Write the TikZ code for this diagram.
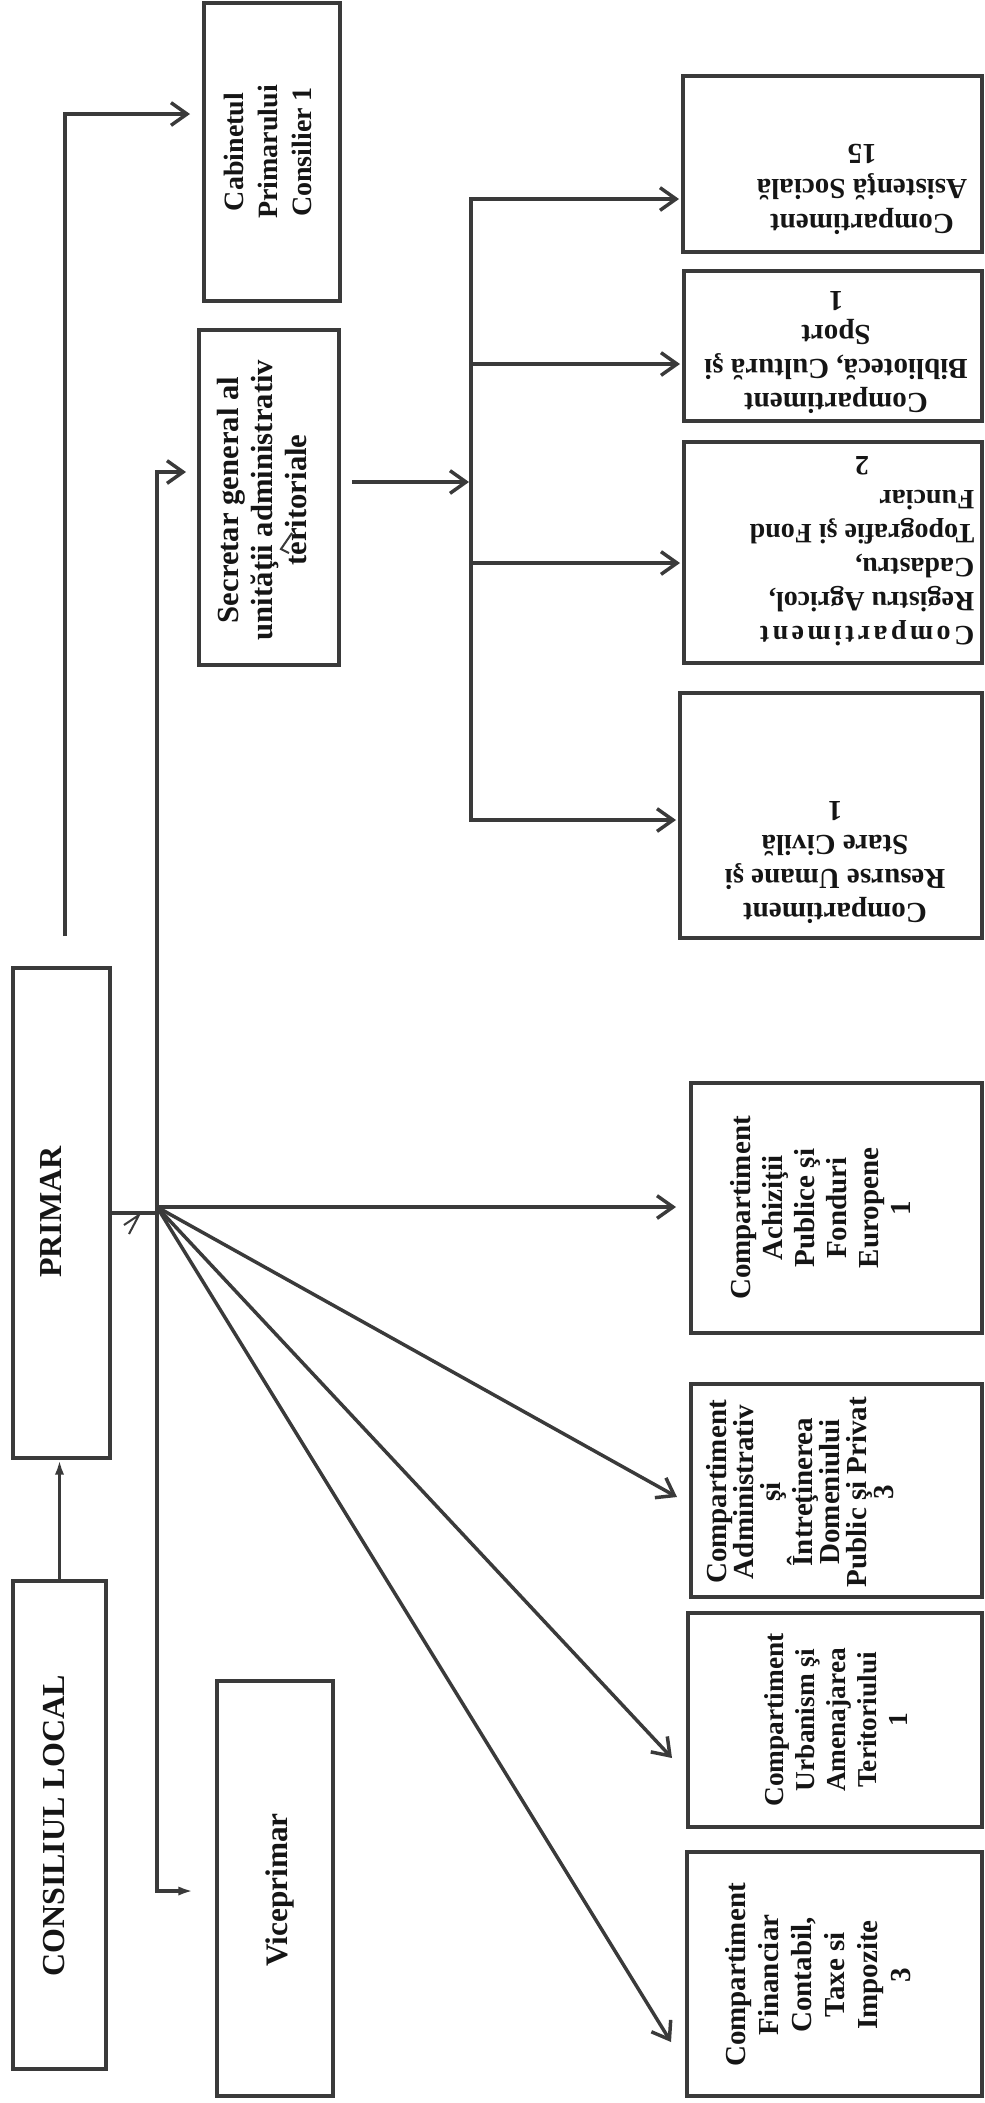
\documentclass[tikz,border=0pt]{standalone}
\usepackage{fontspec}
\setmainfont{Liberation Serif}
\usetikzlibrary{arrows.meta,calc}
\definecolor{linec}{HTML}{3A3A3A}
\definecolor{txtc}{HTML}{151515}
\newlength\pxu
\setlength\pxu{0.75pt}
\begin{document}
\begin{tikzpicture}[x=0.75pt,y=-0.75pt,
  box/.style={draw=linec, line width=3pt, rectangle, inner sep=0pt},
  lab/.style={text=txtc, align=center, inner sep=0pt},
  conn/.style={draw=linec, line width=2.6pt, line join=miter},
  arr/.style={conn, -{Straight Barb[length=12pt,width=17pt]}},
  farr/.style={conn, -{Latex[length=11pt,width=7pt]}},
  stray/.style={draw=linec, line width=1.5pt}
]
\fill[white] (0,0) rectangle (985,2103);
\useasboundingbox (0,0) rectangle (985,2103);

% boxes
\node[box, minimum width=136\pxu, minimum height=298\pxu] (cab) at (272,152) {};
\node[box, minimum width=140\pxu, minimum height=335\pxu] (sec) at (269,497.5) {};
\node[box, minimum width=299\pxu, minimum height=176\pxu] (asist) at (832.5,164) {};
\node[box, minimum width=298\pxu, minimum height=150\pxu] (biblio) at (833,346) {};
\node[box, minimum width=298\pxu, minimum height=221\pxu] (regis) at (833,552.5) {};
\node[box, minimum width=302\pxu, minimum height=245\pxu] (resurse) at (831,815.5) {};
\node[box, minimum width=291\pxu, minimum height=250\pxu] (achiz) at (836.5,1208) {};
\node[box, minimum width=291\pxu, minimum height=213\pxu] (adm) at (836.5,1490.5) {};
\node[box, minimum width=294\pxu, minimum height=214\pxu] (urban) at (835,1720) {};
\node[box, minimum width=295\pxu, minimum height=244\pxu] (financ) at (834.5,1974) {};
\node[box, minimum width=97\pxu, minimum height=490\pxu] (primar) at (61.5,1213) {};
\node[box, minimum width=93\pxu, minimum height=488\pxu] (cons) at (59.5,1825) {};
\node[box, minimum width=116\pxu, minimum height=415\pxu] (vice) at (275,1888.5) {};

% texts
\node[lab, rotate=90, font=\bfseries\fontsize{24}{27}\selectfont] (consT) at (54,1826) {CONSILIUL LOCAL};
\node[lab, rotate=90, font=\bfseries\fontsize{24}{27}\selectfont] (primarT) at (51,1212) {PRIMAR};
\node[lab, rotate=90, font=\bfseries\fontsize{23.5}{27}\selectfont] (viceT) at (280,1890) {Viceprimar};
\node[lab, rotate=90, font=\bfseries\fontsize{21}{25.5}\selectfont] (cabT) at (268,152) {Cabinetul\\Primarului\\Consilier 1};
\node[lab, rotate=90, font=\bfseries\fontsize{23}{25.5}\selectfont] (secT) at (262,500) {Secretar general al\\unităţii administrativ\\teritoriale};
\node[lab, rotate=180, font=\bfseries\fontsize{21.75}{26.25}\selectfont] (asistT) at (862,189) {Compartiment\\Asistenţă Socială\\15};
\node[lab, rotate=180, font=\bfseries\fontsize{21.75}{25.5}\selectfont] (biblioT) at (836,353) {Compartiment\\Bibliotecă, Cultură şi\\Sport\\1};
\node[lab, rotate=180, font=\bfseries\fontsize{21}{25.5}\selectfont] (regisT) at (862,548) {\begin{tabular}{@{}l@{}}{\addfontfeature{LetterSpace=12}Compartiment}\\Registru Agricol,\\Cadastru,\\Topografie şi Fond\\Funciar\\\multicolumn{1}{@{}c@{}}{2}\end{tabular}};
\node[lab, rotate=180, font=\bfseries\fontsize{21.75}{25.5}\selectfont] (resurseT) at (835,863) {Compartiment\\Resurse Umane şi\\Stare Civilă\\1};
\node[lab, rotate=90, font=\bfseries\fontsize{21.75}{24}\selectfont] (achizT) at (820,1208) {Compartiment\\Achiziţii\\Publice şi\\Fonduri\\Europene\\1};
\node[lab, rotate=90, font=\bfseries\fontsize{21.75}{20.25}\selectfont] (admT) at (800,1492) {Compartiment\\Administrativ\\şi\\Întreţinerea\\Domeniului\\Public şi Privat\\3};
\node[lab, rotate=90, font=\bfseries\fontsize{20.5}{23.25}\selectfont] (urbanT) at (836,1720) {Compartiment\\Urbanism şi\\Amenajarea\\Teritoriului\\1};
\node[lab, rotate=90, font=\bfseries\fontsize{21.75}{24.75}\selectfont] (financT) at (818,1975) {Compartiment\\Financiar\\Contabil,\\Taxe si\\Impozite\\3};

% coordinates
\coordinate (lstart) at (65,936);
\coordinate (lcorner) at (65,114);
\coordinate (vtop) at (157,472);
\coordinate (hub) at (157,1207);
\coordinate (vbot) at (157,1891);
\coordinate (bustop) at (471,199);
\coordinate (busb) at (471,364);
\coordinate (busmid) at (471,482);
\coordinate (busr) at (471,563);
\coordinate (busbot) at (471,820);
\coordinate (tipAdm) at (677,1497);
\coordinate (tipUrb) at (672,1758);
\coordinate (tipFin) at (671,2042);

% connectors
\draw[arr, shorten >=12\pxu] (lstart) -- (lcorner) -- (cab.west |- lcorner);
\draw[arr, shorten >=11\pxu] (vbot) -- (vtop) -- (sec.west |- vtop);
\draw[farr, shorten >=22\pxu] (vtop) -- (vbot) -- (vice.west |- vbot);
\draw[conn] (primar.east) -- (hub |- primar.east);
\draw[farr] (cons.north) -- (primar.south -| cons.north);
\draw[arr, shorten >=13\pxu] (hub) -- (achiz.west |- hub);
\draw[arr] (hub) -- (tipAdm);
\draw[arr] (hub) -- (tipUrb);
\draw[arr] (hub) -- (tipFin);
\draw[arr, shorten >=2\pxu] ($(sec.east |- busmid)+(11,0)$) -- (busmid);
\draw[arr, shorten >=2\pxu] (busbot) -- (bustop) -- (asist.west |- bustop);
\draw[arr, shorten >=2\pxu] (bustop) -- (busbot) -- (resurse.west |- busbot);
\draw[arr, shorten >=2\pxu] (busb) -- (biblio.west |- busb);
\draw[arr, shorten >=2\pxu] (busr) -- (regis.west |- busr);

% small stray marks
\draw[stray] (124,1225) -- (139,1215) -- (129,1234);
\draw[stray] (292,533) -- (281,549) -- (289,553);
\end{tikzpicture}
\end{document}
